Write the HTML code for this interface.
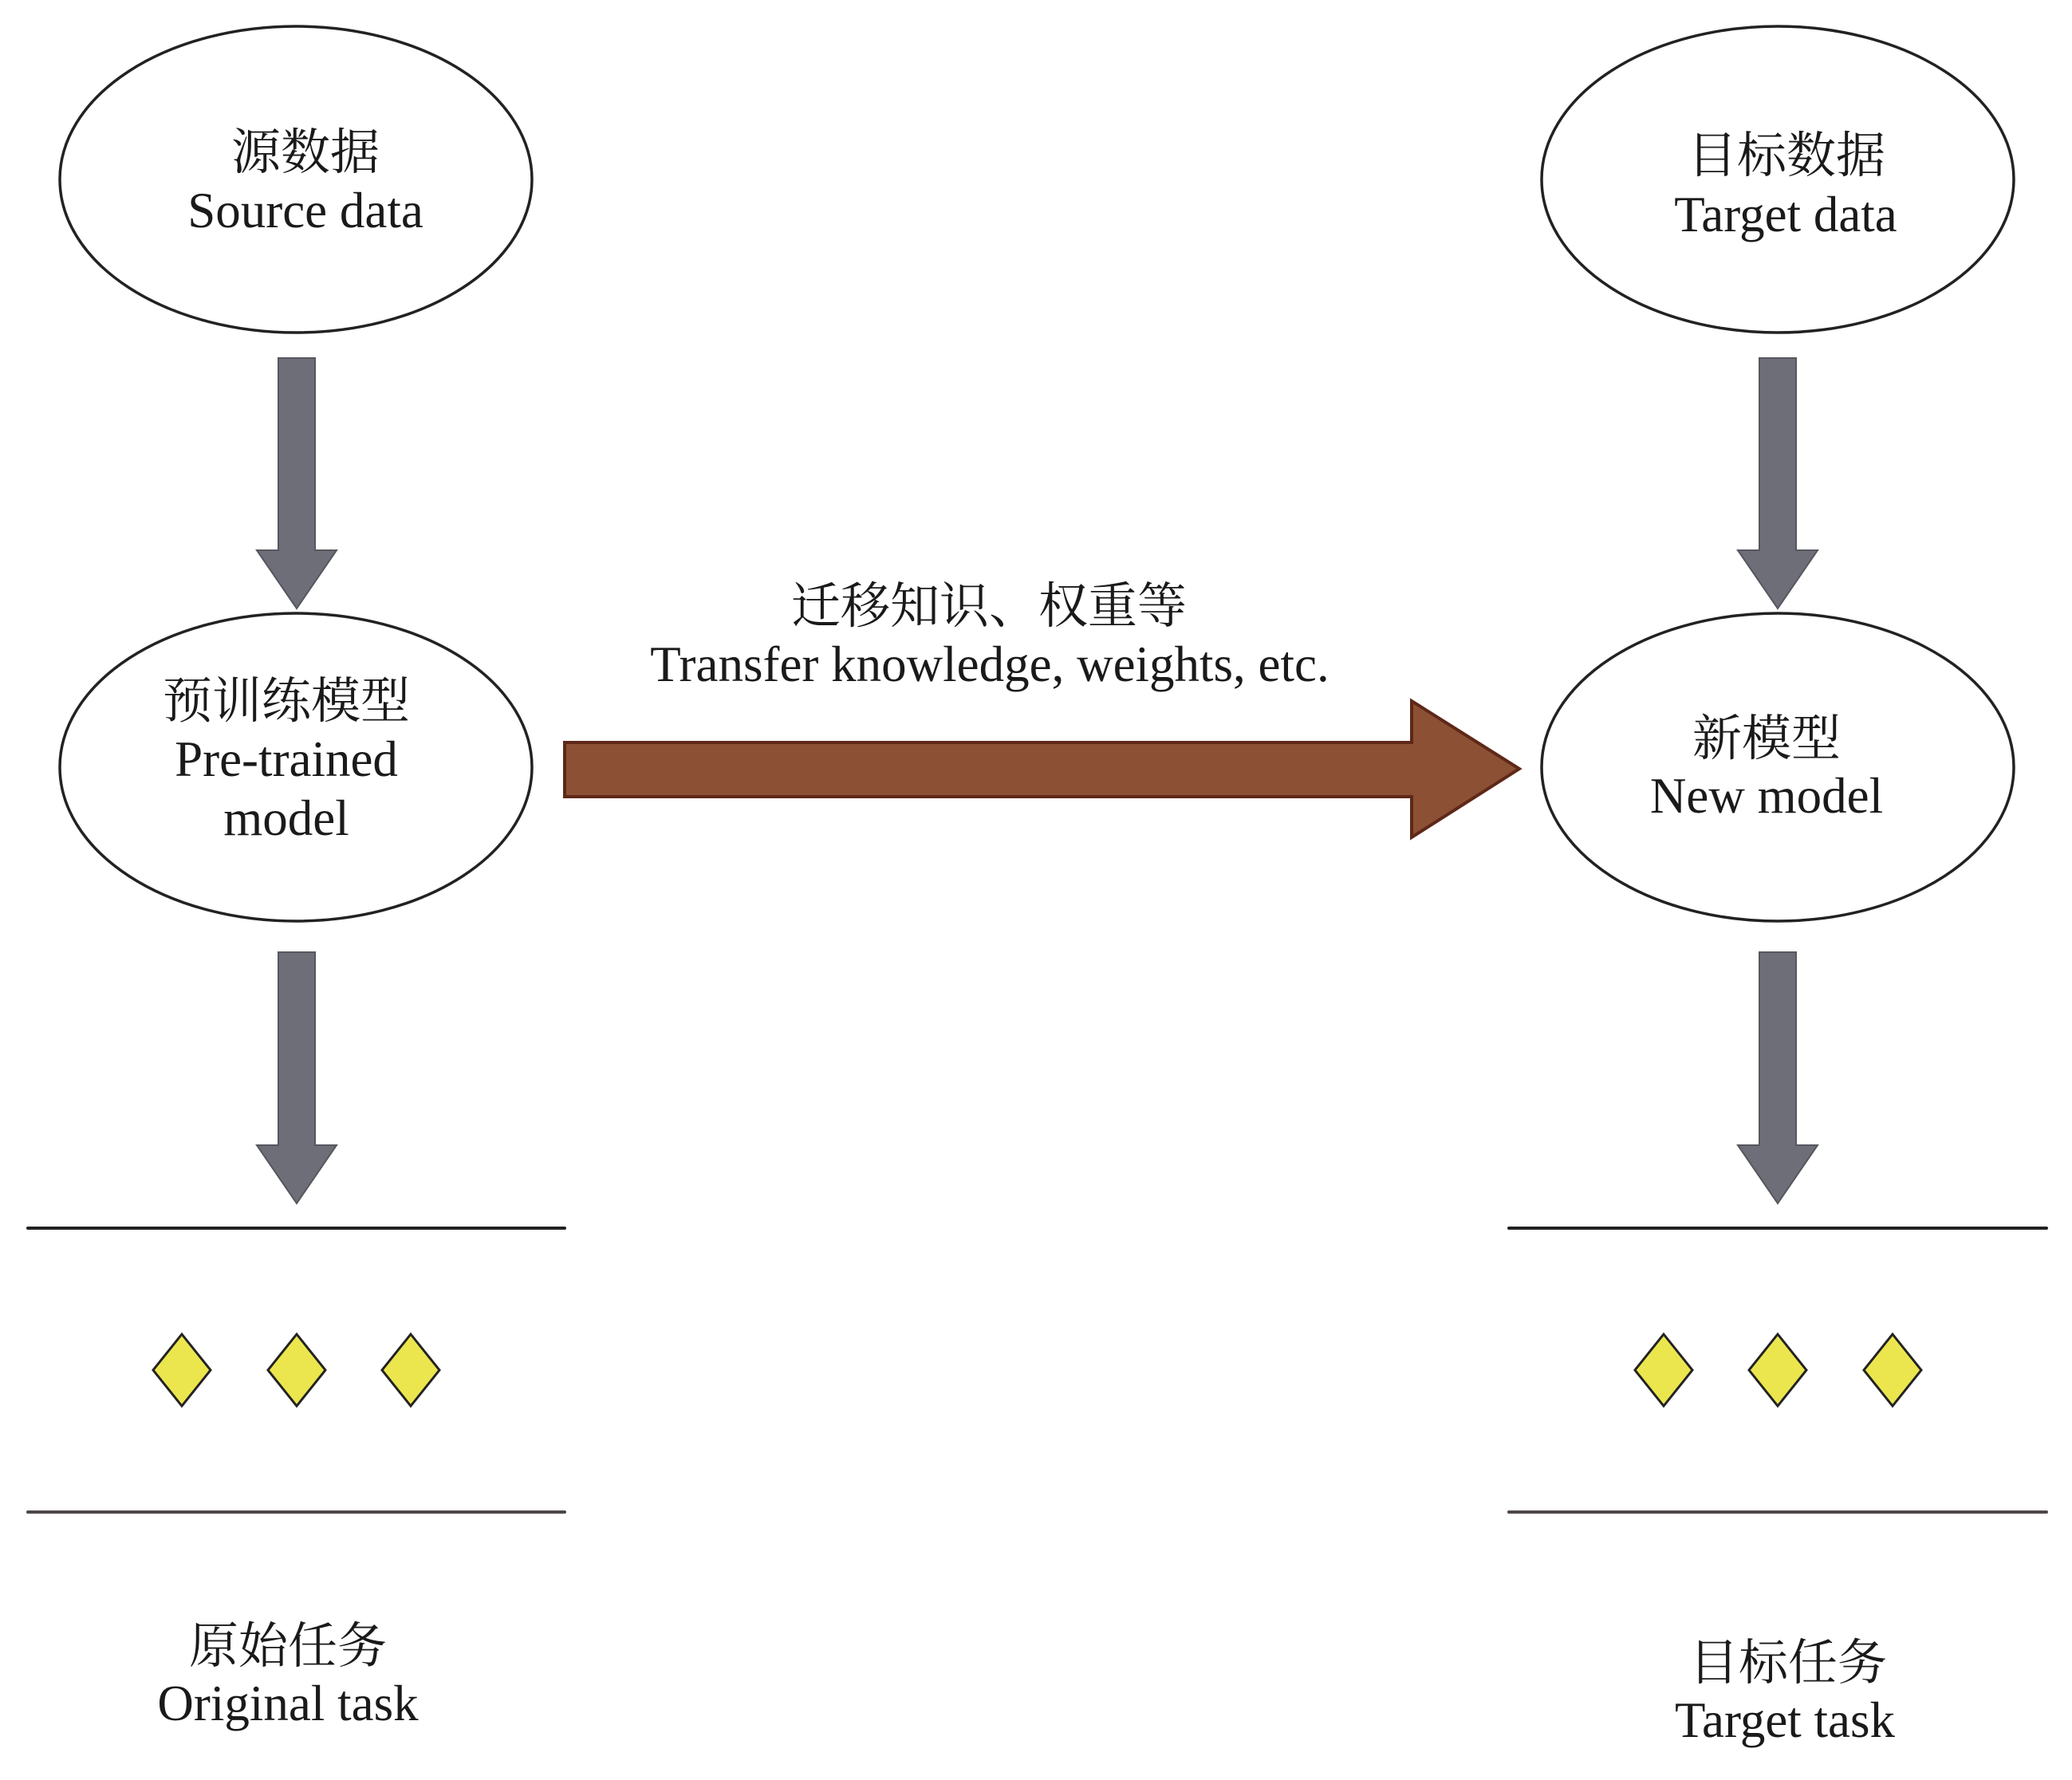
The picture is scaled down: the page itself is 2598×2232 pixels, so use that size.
<!DOCTYPE html>
<html>
<head>
<meta charset="utf-8">
<style>
  html, body { margin: 0; padding: 0; background: #ffffff; }
  body { width: 2598px; height: 2232px; overflow: hidden; }
  svg { display: block; }
  .cjk { font-family: "Liberation Serif", "Noto Serif CJK SC", "Noto Sans CJK SC", serif; font-size: 62px; fill: #1a1a1a; }
  .en { font-family: "Liberation Serif", serif; font-size: 63px; fill: #1a1a1a; }
</style>
</head>
<body>
<svg width="2598" height="2232" viewBox="0 0 2598 2232" xmlns="http://www.w3.org/2000/svg">
  <rect x="0" y="0" width="2598" height="2232" fill="#ffffff"/>

  <!-- Ellipses -->
  <g fill="#ffffff" stroke="#222222" stroke-width="3.5">
    <ellipse cx="371" cy="225" rx="296" ry="192"/>
    <ellipse cx="371" cy="962" rx="296" ry="193"/>
    <ellipse cx="2229" cy="225" rx="296" ry="192"/>
    <ellipse cx="2229" cy="962" rx="296" ry="193"/>
  </g>

  <!-- Gray down arrows -->
  <g fill="#6d6e77" stroke="#56575e" stroke-width="2" stroke-linejoin="miter">
    <polygon points="349,449 395,449 395,690 422,690 372,763 322,690 349,690"/>
    <polygon points="349,1194 395,1194 395,1436 422,1436 372,1509 322,1436 349,1436"/>
    <polygon points="2206,449 2252,449 2252,690 2279,690 2229,763 2179,690 2206,690"/>
    <polygon points="2206,1194 2252,1194 2252,1436 2279,1436 2229,1509 2179,1436 2206,1436"/>
  </g>

  <!-- Brown transfer arrow -->
  <polygon points="708,931 1770,931 1770,879 1905,964 1770,1050 1770,999 708,999"
           fill="#8c5034" stroke="#5e2818" stroke-width="4" stroke-linejoin="miter"/>

  <!-- Horizontal lines -->
  <g stroke-width="4" stroke-linecap="round">
    <line x1="35" y1="1540" x2="708" y2="1540" stroke="#222222"/>
    <line x1="35" y1="1896" x2="708" y2="1896" stroke="#4d4747"/>
    <line x1="1892" y1="1540" x2="2566" y2="1540" stroke="#222222"/>
    <line x1="1892" y1="1896" x2="2566" y2="1896" stroke="#4d4747"/>
  </g>

  <!-- Diamonds -->
  <g fill="#ebe64e" stroke="#222222" stroke-width="3" stroke-linejoin="miter">
    <polygon points="228,1673 264,1718 228,1763 192,1718"/>
    <polygon points="372,1673 408,1718 372,1763 336,1718"/>
    <polygon points="515,1673 551,1718 515,1763 479,1718"/>
    <polygon points="2086,1673 2122,1718 2086,1763 2050,1718"/>
    <polygon points="2229,1673 2265,1718 2229,1763 2193,1718"/>
    <polygon points="2373,1673 2409,1718 2373,1763 2337,1718"/>
  </g>

  <!-- Texts -->
  <text class="cjk" x="383" y="212" text-anchor="middle">源数据</text>
  <text class="en" x="383" y="285" text-anchor="middle">Source data</text>

  <text class="cjk" x="359" y="900" text-anchor="middle">预训练模型</text>
  <text class="en" x="359" y="973" text-anchor="middle">Pre-trained</text>
  <text class="en" x="359" y="1047" text-anchor="middle">model</text>

  <text class="cjk" x="2240" y="216" text-anchor="middle">目标数据</text>
  <text class="en" x="2239" y="290" text-anchor="middle">Target data</text>

  <text class="cjk" x="2215" y="947" text-anchor="middle">新模型</text>
  <text class="en" x="2215" y="1019" text-anchor="middle">New model</text>

  <text class="cjk" x="1240" y="781" text-anchor="middle">迁移知识、权重等</text>
  <text class="en" x="1241" y="854" text-anchor="middle">Transfer knowledge, weights, etc.</text>

  <text class="cjk" x="361" y="2085" text-anchor="middle">原始任务</text>
  <text class="en" x="361" y="2157" text-anchor="middle">Original task</text>

  <text class="cjk" x="2242" y="2106" text-anchor="middle">目标任务</text>
  <text class="en" x="2238" y="2178" text-anchor="middle">Target task</text>
</svg>
</body>
</html>
